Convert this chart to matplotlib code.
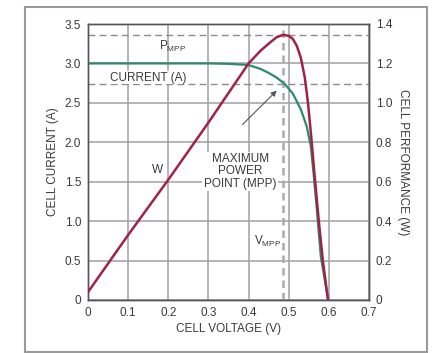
import numpy as np
import matplotlib
matplotlib.use("Agg")
import matplotlib.pyplot as plt
from matplotlib.patches import Rectangle

plt.rcParams["font.family"] = ["Liberation Sans Narrow", "Liberation Sans", "DejaVu Sans"]

# ── Data ──────────────────────────────────────────────────────────────
current_v = [0.0, 0.1, 0.2, 0.3, 0.35, 0.4, 0.43, 0.45, 0.47, 0.49, 0.51,
             0.53, 0.545, 0.555, 0.562, 0.57, 0.58, 0.59, 0.598]
current_a = [3.0, 3.0, 3.0, 3.0, 2.995, 2.98, 2.93, 2.88, 2.82, 2.74, 2.62,
             2.42, 2.2, 1.95, 1.6, 1.15, 0.55, 0.25, 0.0]

power_v = [0.0, 0.1, 0.2, 0.3, 0.4, 0.43, 0.45, 0.47, 0.486, 0.5, 0.51,
           0.52, 0.53, 0.54, 0.548, 0.556, 0.565, 0.575, 0.585, 0.598]
power_w = [0.04, 0.33, 0.61, 0.90, 1.20, 1.265, 1.30, 1.333, 1.345, 1.34,
           1.325, 1.29, 1.23, 1.13, 1.00, 0.83, 0.62, 0.40, 0.20, 0.0]

v_mpp = 0.486
i_mpp = 2.74
p_mpp = 1.345

x_ticks = [0, 0.1, 0.2, 0.3, 0.4, 0.5, 0.6, 0.7]
x_labels = ["0", "0.1", "0.2", "0.3", "0.4", "0.5", "0.6", "0.7"]
yl_ticks = [0, 0.5, 1.0, 1.5, 2.0, 2.5, 3.0, 3.5]
yl_labels = ["0", "0.5", "1.0", "1.5", "2.0", "2.5", "3.0", "3.5"]
yr_ticks = [0, 0.2, 0.4, 0.6, 0.8, 1.0, 1.2, 1.4]
yr_labels = ["0", "0.2", "0.4", "0.6", "0.8", "1.0", "1.2", "1.4"]

red = "#9e2347"
green = "#2f8a68"
grid_col = "#a0a0a0"
txt = "#3a3a3a"
fs = 8.5

fig = plt.figure(figsize=(4.43, 3.53), dpi=100)
fig.patches.append(Rectangle((25 / 443, 1 / 353), 402 / 443, 345 / 353,
                             transform=fig.transFigure, fill=False,
                             edgecolor="#9a9a9a", linewidth=1.5))

ax = fig.add_axes([88 / 443, 53 / 353, 281 / 443, 276 / 353])
ax2 = ax.twinx()

ax.set_xlim(0, 0.7)
ax.set_ylim(0, 3.5)
ax2.set_ylim(0, 1.4)

ax.set_xticks(x_ticks)
ax.set_xticklabels(x_labels)
ax.set_yticks(yl_ticks)
ax.set_yticklabels(yl_labels)
ax2.set_yticks(yr_ticks)
ax2.set_yticklabels(yr_labels)

for a in (ax, ax2):
    a.tick_params(length=0, labelsize=fs, colors=txt, pad=5)
    for s in a.spines.values():
        s.set_color("#555555")
        s.set_linewidth(1.0)

ax.grid(True, color=grid_col, linewidth=1.1)
ax.set_axisbelow(True)

# dashed MPP markers
ax.axhline(i_mpp, color="#8c8c8c", linestyle=(0, (5, 3)), linewidth=1.0)
ax2.axhline(p_mpp, color="#8c8c8c", linestyle=(0, (5, 3)), linewidth=1.0)
ax.axvline(v_mpp, color="#aaaaaa", linestyle=(0, (3, 2)), linewidth=1.8)

ax.plot(current_v, current_a, color=green, linewidth=1.6, zorder=4)
ax2.plot(power_v, power_w, color=red, linewidth=1.8, zorder=4)

ax.set_xlabel("CELL VOLTAGE (V)", fontsize=fs, color=txt, labelpad=3)
ax.set_ylabel("CELL CURRENT (A)", fontsize=fs, color=txt, labelpad=4)
ax2.set_ylabel("CELL PERFORMANCE (W)", fontsize=fs, color=txt,
               rotation=270, labelpad=12)

ax.text(0.212, 3.22, r"P$_{\mathregular{MPP}}$", fontsize=fs, color=txt,
        ha="center", va="center")
ax.text(0.15, 2.82, "CURRENT (A)", fontsize=fs, color=txt, ha="center",
        va="center", bbox=dict(facecolor="white", edgecolor="none", pad=0.5))
ax.text(0.172, 1.65, "W", fontsize=fs, color=txt, ha="center", va="center",
        bbox=dict(facecolor="white", edgecolor="none", pad=0.5))
ax.text(0.379, 1.63, "MAXIMUM\nPOWER\nPOINT (MPP)", fontsize=fs, color=txt,
        ha="center", va="center", linespacing=1.05,
        bbox=dict(facecolor="white", edgecolor="none", pad=1))
ax.text(0.482, 0.74, r"V$_{\mathregular{MPP}}$", fontsize=fs, color=txt,
        ha="right", va="center",
        bbox=dict(facecolor="white", edgecolor="none", pad=0.5))
ax.annotate("", xy=(0.475, 2.68), xytext=(0.38, 2.2),
            arrowprops=dict(arrowstyle="-|>", color="#555555", lw=0.8,
                            mutation_scale=8))

fig.savefig("out.png", dpi=100)
